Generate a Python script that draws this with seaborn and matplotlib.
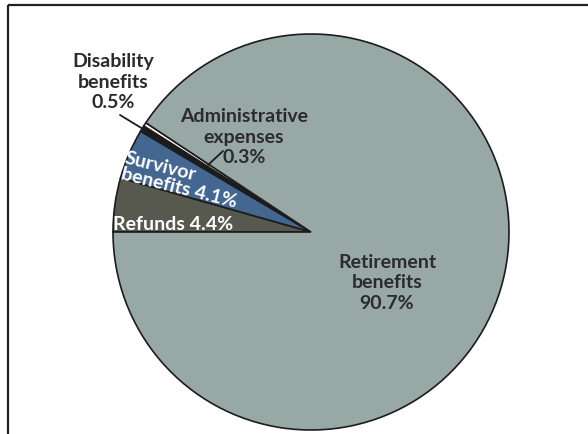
import matplotlib
matplotlib.use("Agg")
import matplotlib.pyplot as plt
import seaborn as sns

# Data (clockwise from the left, as drawn)
categories = ["Refunds", "Survivor benefits", "Disability benefits",
              "Administrative expenses", "Retirement benefits"]
shares = [4.4, 4.1, 0.5, 0.3, 90.7]
colors = ["#57594f", "#436791", "#1c1c1c", "#ffffff", "#97a8a5"]

sns.set_theme(style="white")
plt.rcParams['font.family'] = ['Lato', 'DejaVu Sans']

fig = plt.figure(figsize=(5.88, 4.35), dpi=100)
ax = fig.add_axes([0, 0, 1, 1])

# pixel-like coordinates, y measured up from the bottom
H = 435
ax.pie(shares, colors=colors, center=(311, H - 233), radius=198,
       startangle=180, counterclock=False,
       wedgeprops=dict(edgecolor="#1c1c1c", linewidth=1.2))
ax.set_xlim(0, 588)
ax.set_ylim(0, H)
ax.set_aspect("equal")
ax.axis("off")

# box border (top and left only, the rest runs off the image)
ax.plot([8, 588], [H - 6, H - 6], color="#222222", lw=1.6, solid_capstyle="butt")
ax.plot([8, 8], [H - 6, 0], color="#222222", lw=1.6, solid_capstyle="butt")

txt = dict(fontsize=14, fontweight="bold", color="#2b2b2b", ha="center", va="center",
           linespacing=1.22)

ax.text(113, H - 82, "Disability\nbenefits\n0.5%", **txt)
ax.plot([120, 143], [H - 116, H - 130], color="#1c1c1c", lw=1.3)

ax.text(244, H - 137, "Administrative\nexpenses\n0.3%", **txt)
ax.plot([223, 208], [H - 152, H - 166], color="#1c1c1c", lw=1.3)

ax.text(387, H - 283, "Retirement\nbenefits\n90.7%", **txt)

ax.text(181, H - 180, "Survivor\nbenefits 4.1%", fontsize=14, fontweight="bold",
        color="white", ha="center", va="center", rotation=-14,
        rotation_mode="anchor", multialignment="left", linespacing=0.95)

ax.text(173, H - 225, "Refunds 4.4%", fontsize=14, fontweight="bold",
        color="white", ha="center", va="center")

fig.savefig("out.png", dpi=100)
